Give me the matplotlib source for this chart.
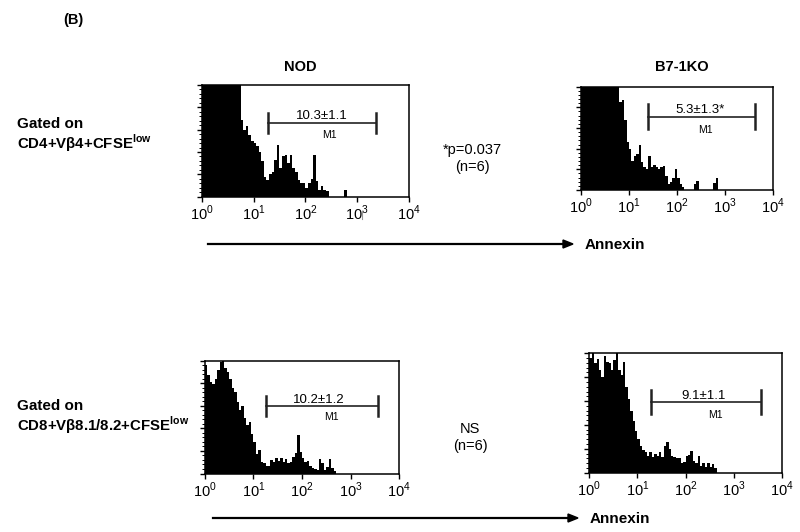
import numpy as np
import matplotlib.pyplot as plt
from matplotlib.ticker import FixedLocator, LogLocator, NullFormatter, MultipleLocator

plt.rcParams['font.family'] = ['Liberation Sans', 'DejaVu Sans']
plt.rcParams['mathtext.fontset'] = 'custom'
plt.rcParams['mathtext.rm'] = 'Liberation Sans'
plt.rcParams['mathtext.bf'] = 'Liberation Sans:bold'

# annexin histograms, 20 channels per decade from 10^0, counts in % of axis height
nod_cd4 = [150, 150, 150, 150, 150, 150, 150, 150, 150, 150, 150, 150, 150, 150, 150,
           69, 60, 63, 55, 50, 48, 45, 40, 32, 18, 15, 20, 22, 33, 46,
           26, 36, 37, 30, 37, 26, 22, 15, 12, 12, 8, 12, 16, 37, 14,
           6, 10, 6, 5, 0, 0, 0, 0, 0, 0, 6]
ko_cd4 = [150, 150, 150, 150, 150, 150, 150, 150, 150, 150, 150, 150, 150, 150, 150, 150,
          85, 87, 68, 46, 40, 28, 33, 35, 44, 27, 22, 20, 33, 22,
          24, 22, 20, 22, 23, 14, 6, 8, 12, 20, 12, 6, 3, 0, 0,
          0, 0, 6, 9, 0, 0, 0, 0, 0, 0, 7, 12]
nod_cd8 = [96, 87, 81, 79, 84, 92, 99, 100, 93, 90, 84, 76, 72, 63, 56,
           60, 49, 43, 46, 35, 28, 17, 21, 10, 9, 7, 7, 12, 10, 14,
           11, 14, 10, 13, 9, 10, 15, 18, 34, 19, 14, 10, 11, 7, 5,
           4, 3, 13, 9, 3, 6, 13, 5, 2]
ko_cd8 = [96, 100, 92, 95, 86, 80, 98, 93, 92, 86, 94, 100, 86, 82, 93,
          72, 62, 52, 43, 35, 28, 22, 19, 17, 14, 17, 13, 16, 14, 17,
          13, 22, 26, 20, 14, 13, 12, 12, 8, 9, 14, 15, 18, 10, 8,
          14, 6, 8, 5, 8, 5, 7, 4]

gate_labels = ['10.3±1.1', '5.3±1.3*', '10.2±1.2', '9.1±1.1']
decades = [1, 10, 100, 1000, 10000]
decade_labels = ['10$^{0}$', '10$^{1}$', '10$^{2}$', '10$^{3}$', '10$^{4}$']

W, H = 800, 532
fig = plt.figure(figsize=(8, 5.32), dpi=100)


def px_rect(left, top, right, bottom):
    return [left / W, 1 - bottom / H, (right - left) / W, (bottom - top) / H]


def histo(rect, counts, gate, label, label_pos):
    ax = fig.add_axes(rect)
    counts = np.array(counts + [0] * (80 - len(counts)), dtype=float)
    edges = 10 ** (np.arange(81) * 0.05)
    ax.stairs(counts, edges, fill=True, color='black', linewidth=0)
    ax.set_xscale('log')
    ax.set_xlim(1, 10000)
    ax.set_ylim(0, 100)
    ax.xaxis.set_major_locator(FixedLocator(decades))
    ax.set_xticklabels(decade_labels)
    ax.xaxis.set_minor_locator(LogLocator(base=10, subs=np.arange(2, 10)))
    ax.xaxis.set_minor_formatter(NullFormatter())
    ax.yaxis.set_major_locator(MultipleLocator(20))
    ax.yaxis.set_minor_locator(MultipleLocator(4))
    ax.set_yticklabels([])
    ax.tick_params(axis='both', which='major', length=3.5, width=1, direction='out',
                   labelsize=10.5, pad=1.5)
    ax.tick_params(axis='both', which='minor', length=2, width=0.7, direction='out')
    for s in ax.spines.values():
        s.set_linewidth(1.1)
    lo, hi, y, cap = gate
    ax.plot([lo, hi], [y, y], color='#222222', lw=1.2)
    ax.plot([lo, lo], [y - cap, y + cap], color='#222222', lw=1.8)
    ax.plot([hi, hi], [y - cap, y + cap], color='#222222', lw=1.8)
    tx, ty, mx, my = label_pos
    ax.text(tx, ty, label, ha='center', va='center', fontsize=9.5)
    ax.text(mx, my, 'M1', ha='center', va='center', fontsize=7.5)
    return ax


histo(px_rect(201.7, 85, 409, 196.7), nod_cd4, (10 ** 1.28, 10 ** 3.37, 66, 9),
      gate_labels[0], (10 ** 2.31, 72, 10 ** 2.47, 55))
histo(px_rect(581, 86.7, 773.3, 190), ko_cd4, (10 ** 1.40, 10 ** 3.62, 71, 12),
      gate_labels[1], (10 ** 2.48, 77, 10 ** 2.58, 58))
histo(px_rect(205, 360.5, 399, 473.5), nod_cd8, (10 ** 1.26, 10 ** 3.57, 60, 9),
      gate_labels[2], (10 ** 2.34, 65, 10 ** 2.61, 50))
histo(px_rect(589.3, 353.3, 781.7, 472.7), ko_cd8, (10 ** 1.28, 10 ** 3.58, 59, 10),
      gate_labels[3], (10 ** 2.37, 64, 10 ** 2.63, 48))


def ftext(x, y, s, **kw):
    fig.text(x / W, 1 - y / H, s, **kw)


ftext(63, 20, '(B)', fontsize=10.5, fontweight='bold', va='center')
ftext(300, 67, 'NOD', fontsize=10.5, fontweight='bold', ha='center', va='center')
ftext(682, 67, 'B7-1KO', fontsize=10.5, fontweight='bold', ha='center', va='center')

ftext(17, 124, 'Gated on', fontsize=11, fontweight='bold', va='center')
ftext(17, 143, r'CD4+V$\mathbf{\beta}$4+CFSE$^{\mathbf{low}}$', fontsize=10.8,
      fontweight='bold', va='center')
ftext(17, 406, 'Gated on', fontsize=11, fontweight='bold', va='center')
ftext(17, 425, r'CD8+V$\mathbf{\beta}$8.1/8.2+CFSE$^{\mathbf{low}}$', fontsize=10.8,
      fontweight='bold', va='center')

ftext(472, 150, '*p=0.037', fontsize=10.5, ha='center', va='center')
ftext(472, 167, '(n=6)', fontsize=10.5, ha='center', va='center')
ftext(470, 429, 'NS', fontsize=10.5, ha='center', va='center')
ftext(470, 446, '(n=6)', fontsize=10.5, ha='center', va='center')

for x0, x1, y, tx in [(208, 573, 244, 585), (213, 578, 518, 590)]:
    fig.add_artist(plt.Line2D([x0 / W, (x1 - 6) / W], [1 - y / H, 1 - y / H],
                              color='black', lw=1.6))
    fig.patches.append(plt.Polygon([[x1 / W, 1 - y / H], [(x1 - 10) / W, 1 - (y - 4) / H],
                                    [(x1 - 10) / W, 1 - (y + 4) / H]],
                                   closed=True, color='black', transform=fig.transFigure))
    ftext(tx, y + 1, 'Annexin', fontsize=11, fontweight='bold', va='center')

fig.add_artist(plt.Line2D([362 / W, 362 / W], [1 - 212 / H, 1 - 219 / H],
                          color='#999999', lw=0.8))

fig.savefig('out.png', dpi=100)
